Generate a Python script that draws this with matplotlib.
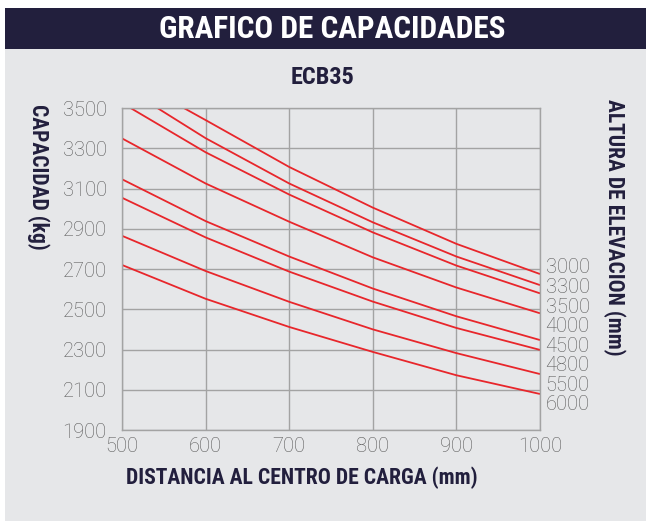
import matplotlib
matplotlib.use("Agg")
import matplotlib.pyplot as plt
from matplotlib.patches import Rectangle
from matplotlib import font_manager
import numpy as np

# data (capacity kg vs load centre mm)
distancia = [500, 600, 700, 800, 900, 1000]
alturas = ['3000', '3300', '3500', '4000', '4500', '4800', '5500', '6000']
capacidad = [
    [3670, 3440, 3207, 3005, 2825, 2675],
    [3610, 3350, 3125, 2932, 2762, 2620],
    [3525, 3280, 3070, 2882, 2717, 2579],
    [3349, 3125, 2935, 2758, 2608, 2480],
    [3146, 2938, 2762, 2603, 2465, 2347],
    [3054, 2857, 2687, 2538, 2407, 2298],
    [2865, 2690, 2537, 2400, 2282, 2178],
    [2720, 2552, 2412, 2288, 2172, 2079],
]
yticks = [1900, 2100, 2300, 2500, 2700, 2900, 3100, 3300, 3500]
xticks = [500, 600, 700, 800, 900, 1000]

# look for a narrow bold face, fall back to condensed DejaVu
fonts = font_manager.fontManager.ttflist
names = {f.name for f in fonts}
narrow = [n for n in ['Liberation Sans Narrow', 'DejaVu Sans Condensed', 'Roboto Condensed',
                      'Open Sans Condensed'] if n in names]
cond_dejavu = any(f.name == 'DejaVu Sans' and f.stretch == 'condensed' and f.weight == 700
                  for f in fonts)
if narrow:
    bold_kw = dict(family=[narrow[0], 'DejaVu Sans'], fontweight='bold')
    scale = 1.0
elif cond_dejavu:
    bold_kw = dict(family='DejaVu Sans', fontweight='bold', fontstretch='condensed')
    scale = 0.95
else:
    bold_kw = dict(family='DejaVu Sans', fontweight='bold')
    scale = 0.82
thin_font = ['Roboto', 'DejaVu Sans']

navy = '#221f3d'
gris = '#e6e7e9'
rojo = '#e8262b'
rejilla = '#a3a3a3'
gris_txt = '#5a5a5a'

W, H = 646, 521
fig = plt.figure(figsize=(W / 100, H / 100), dpi=100, facecolor='white')

# background panels
fig.patches.append(Rectangle((5 / W, 0), 1 - 5 / W, (H - 49) / H, transform=fig.transFigure,
                             facecolor=gris, edgecolor='none', zorder=-2))
fig.patches.append(Rectangle((5 / W, (H - 49) / H), 1 - 5 / W, 41 / H, transform=fig.transFigure,
                             facecolor=navy, edgecolor='none', zorder=-1))

fig.text(332 / W, (H - 29) / H, 'GRAFICO DE CAPACIDADES', color='white', fontsize=22.5 * scale,
         ha='center', va='center', **bold_kw)
fig.text(323 / W, (H - 78) / H, 'ECB35', color=navy, fontsize=17.5 * scale,
         ha='center', va='center', **bold_kw)

ax = fig.add_axes([122 / W, (H - 430) / H, 418 / W, 322 / H])
ax.set_facecolor(gris)

for vals in capacidad:
    ax.plot(distancia, vals, color=rojo, lw=1.3, solid_capstyle='butt')

ax.set_xlim(500, 1000)
ax.set_ylim(1900, 3500)
ax.set_xticks(xticks)
ax.set_yticks(yticks)
ax.grid(True, color=rejilla, lw=1)
ax.set_axisbelow(True)
for s in ax.spines.values():
    s.set_color(rejilla)
    s.set_linewidth(1)
ax.tick_params(length=0, labelsize=14.5, labelcolor=gris_txt, pad=5)
ax.tick_params(axis='y', pad=11)
for lab in ax.get_xticklabels() + ax.get_yticklabels():
    lab.set_family(thin_font)
    lab.set_fontweight('light')

# right side labels for each lift height
label_y = np.linspace(2705, 2025, len(alturas))
for txt, yy in zip(alturas, label_y):
    ax.annotate(txt, xy=(1000, yy), xytext=(4, 0), textcoords='offset points',
                fontsize=14.5, color=gris_txt, family=thin_font, fontweight='light',
                ha='left', va='center', annotation_clip=False)

fig.text(302 / W, (H - 478) / H, 'DISTANCIA AL CENTRO DE CARGA (mm)', color=navy,
         fontsize=15.6 * scale, ha='center', va='center', **bold_kw)
fig.text(38 / W, (H - 104) / H, 'CAPACIDAD (kg)', color=navy, fontsize=15.5 * scale,
         rotation=270, ha='center', va='top', **bold_kw)
fig.text(614 / W, (H - 99) / H, 'ALTURA DE ELEVACION (mm)', color=navy, fontsize=15.5 * scale,
         rotation=270, ha='center', va='top', **bold_kw)

fig.savefig('out.png', dpi=100, facecolor='white')
